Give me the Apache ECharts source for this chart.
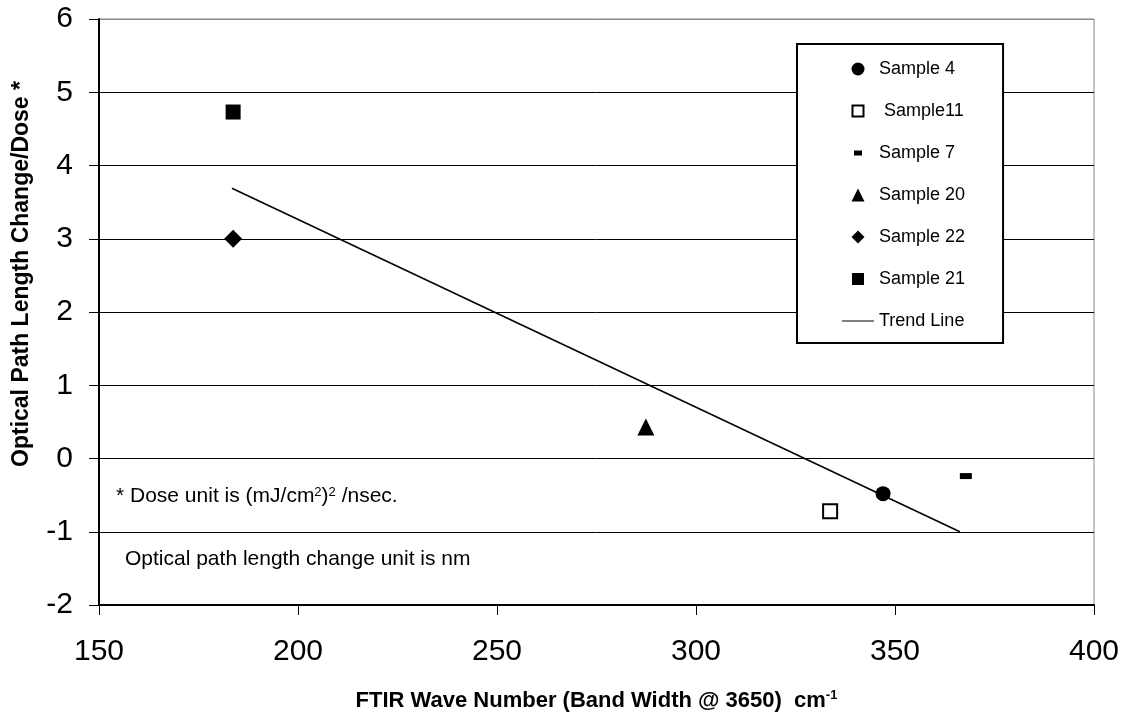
<!DOCTYPE html>
<html>
<head>
<meta charset="utf-8">
<script src="https://cdn.jsdelivr.net/npm/echarts@6/dist/echarts.min.js"></script>
<style>
html,body{margin:0;padding:0;background:#fff;}
#chart{width:1128px;height:719px;}
</style>
</head>
<body>
<div id="chart"></div>
<script>
// ---- data ----
var sample4 = [[347, -0.48]];
var sample11 = [[333.7, -0.72]];
var sample7 = [[367.8, -0.24]];
var sample20 = [[287.4, 0.43]];
var sample22 = [[183.7, 3.0]];
var sample21 = [[183.7, 4.73]];
var trendLine = [[183.4, 3.69], [366.3, -1.0]];
var xTicks = [150, 200, 250, 300, 350, 400];
var yTicks = [-2, -1, 0, 1, 2, 3, 4, 5, 6];

var FONT = 'Liberation Sans, Arial, sans-serif';
var chart = echarts.init(document.getElementById('chart'));

var splitColors = yTicks.map(function (v, i) { return i === yTicks.length - 1 ? '#888' : '#000'; });

// legend icon shapes (padded so the 32x13 legend box keeps them at true size)
var PAD = 'M-9.5,0M22.5,13';
var ICON_SQUARE = 'path://' + PAD + 'M0.5,0.5L12.5,0.5L12.5,12.5L0.5,12.5Z';
var ICON_OPEN = 'path://' + PAD + 'M1,1L12,1L12,12L1,12Z';
var ICON_DASH = 'path://' + PAD + 'M2.5,4L10.5,4L10.5,9L2.5,9Z';
var ICON_TRI = 'path://' + PAD + 'M6.5,0L13,13L0,13Z';
var ICON_DIA = 'path://' + PAD + 'M6.5,0L13,6.5L6.5,13L0,6.5Z';
var ICON_CIRC = 'path://' + PAD + 'M0,6.5A6.5,6.5,0,1,1,13,6.5A6.5,6.5,0,1,1,0,6.5Z';
var ICON_LINE = 'path://M-9.5,0M22.5,13M-9.5,6L22.5,6L22.5,7L-9.5,7Z';

var option = {
  backgroundColor: '#fff',
  animation: false,
  grid: {
    left: 99, right: 34, top: 19, bottom: 114,
    show: true, borderColor: '#888', borderWidth: 1
  },
  xAxis: {
    type: 'value',
    min: xTicks[0], max: xTicks[xTicks.length - 1], interval: 50,
    axisLine: { show: true, onZero: false, lineStyle: { color: '#000', width: 2 } },
    axisTick: { show: true, length: 10, lineStyle: { color: '#000', width: 1 } },
    axisLabel: { fontSize: 30, color: '#000', fontFamily: FONT, margin: 32 },
    splitLine: { show: false },
    name: 'FTIR Wave Number (Band Width @ 3650)  cm{sup|-1}',
    nameLocation: 'middle',
    nameGap: 84,
    nameTextStyle: {
      fontSize: 22, fontWeight: 'bold', color: '#000', fontFamily: FONT,
      rich: {
        sup: { fontSize: 13, fontWeight: 'bold', color: '#000', fontFamily: FONT, verticalAlign: 'top', padding: [0, 0, 10, 0] }
      }
    }
  },
  yAxis: {
    type: 'value',
    min: yTicks[0], max: yTicks[yTicks.length - 1], interval: 1,
    axisLine: { show: true, lineStyle: { color: '#000', width: 2 } },
    axisTick: { show: true, length: 10, lineStyle: { color: '#000', width: 1 } },
    axisLabel: { fontSize: 30, color: '#000', fontFamily: FONT, margin: 26 },
    splitLine: { show: true, lineStyle: { color: splitColors, width: 1 } },
    name: 'Optical Path Length Change/Dose *',
    nameLocation: 'middle',
    nameGap: 66,
    nameTextStyle: {
      fontSize: 23, fontWeight: 'bold', color: '#000', fontFamily: FONT,
      padding: [0, 0, 0, 76]
    }
  },
  legend: {
    orient: 'vertical',
    left: 797, top: 44,
    padding: [16, 38, 13, 44],
    itemGap: 24,
    itemWidth: 32, itemHeight: 13,
    symbolKeepAspect: true,
    backgroundColor: '#fff',
    borderColor: '#000', borderWidth: 2,
    textStyle: { fontSize: 18, color: '#000', fontFamily: FONT },
    data: [
      { name: 'Sample 4', icon: ICON_CIRC, itemStyle: { color: '#000', borderWidth: 0 } },
      { name: ' Sample11', icon: ICON_OPEN, itemStyle: { color: '#fff', borderColor: '#000', borderWidth: 2 } },
      { name: 'Sample 7', icon: ICON_DASH, itemStyle: { color: '#000', borderWidth: 0 } },
      { name: 'Sample 20', icon: ICON_TRI, itemStyle: { color: '#000', borderWidth: 0 } },
      { name: 'Sample 22', icon: ICON_DIA, itemStyle: { color: '#000', borderWidth: 0 } },
      { name: 'Sample 21', icon: ICON_SQUARE, itemStyle: { color: '#000', borderWidth: 0 } },
      { name: 'Trend Line', icon: ICON_LINE, itemStyle: { color: '#000', borderWidth: 0 } }
    ]
  },
  series: [
    { name: 'Trend Line', type: 'line', data: trendLine, symbol: 'none', showSymbol: false,
      lineStyle: { color: '#000', width: 1.5 }, itemStyle: { color: '#000' }, z: 2 },
    { name: 'Sample 4', type: 'scatter', data: sample4, symbol: 'circle', symbolSize: 15,
      itemStyle: { color: '#000', opacity: 1 }, z: 3 },
    { name: ' Sample11', type: 'scatter', data: sample11, symbol: 'rect', symbolSize: 14,
      itemStyle: { color: '#fff', borderColor: '#000', borderWidth: 2, opacity: 1 }, z: 3 },
    { name: 'Sample 7', type: 'scatter', data: sample7, symbol: 'rect', symbolSize: [12, 6],
      itemStyle: { color: '#000', opacity: 1 }, z: 3 },
    { name: 'Sample 20', type: 'scatter', data: sample20, symbol: 'triangle', symbolSize: 17,
      itemStyle: { color: '#000', opacity: 1 }, z: 3 },
    { name: 'Sample 22', type: 'scatter', data: sample22, symbol: 'diamond', symbolSize: 18,
      itemStyle: { color: '#000', opacity: 1 }, z: 3 },
    { name: 'Sample 21', type: 'scatter', data: sample21, symbol: 'rect', symbolSize: 15,
      itemStyle: { color: '#000', opacity: 1 }, z: 3 }
  ],
  graphic: [
    {
      type: 'text', left: 116, top: 486, z: 10,
      style: {
        text: '* Dose unit is (mJ/cm{sup|2}){sup|2} /nsec.',
        font: '21px ' + FONT, fill: '#000',
        rich: { sup: { fontSize: 13, fontFamily: FONT, fill: '#000', verticalAlign: 'top', padding: [0, 0, 8, 0] } }
      }
    },
    {
      type: 'text', left: 125, top: 549, z: 10,
      style: { text: 'Optical path length change unit is nm', font: '21px ' + FONT, fill: '#000' }
    }
  ]
};
chart.setOption(option);
</script>
</body>
</html>
